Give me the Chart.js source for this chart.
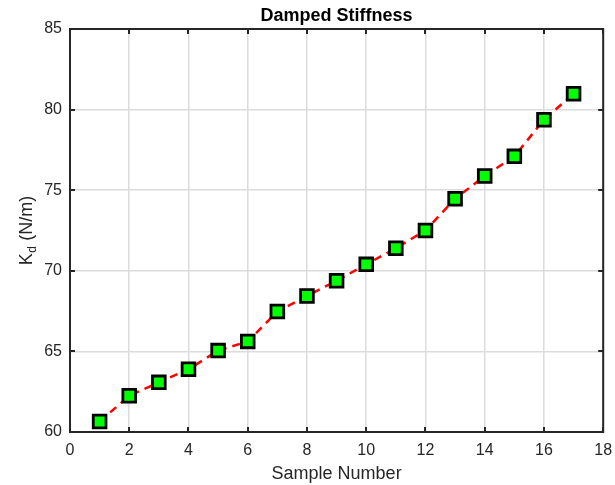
<!DOCTYPE html>
<html>
<head>
<meta charset="utf-8">
<script src="https://cdn.jsdelivr.net/npm/chart.js@4/dist/chart.umd.min.js"></script>
<style>
  html, body { margin: 0; padding: 0; background: #fff; }
  #wrap { width: 615px; height: 485px; position: relative; }
</style>
</head>
<body>
<div id="wrap"><canvas id="c" width="615" height="485"></canvas></div>
<script>
// Damped stiffness per sample
const sampleNumbers = [1, 2, 3, 4, 5, 6, 7, 8, 9, 10, 11, 12, 13, 14, 15, 16, 17];
const stiffnessValues = [60.65, 62.25, 63.08, 63.89, 65.05, 65.62, 67.47, 68.44, 69.38, 70.4, 71.4, 72.5, 74.47, 75.88, 77.1, 79.37, 80.98];
const xTicks = [0, 2, 4, 6, 8, 10, 12, 14, 16, 18];
const yTicks = [60, 65, 70, 75, 80, 85];

const chartTitle = 'Damped Stiffness';
const xTitle = 'Sample Number';
const yTitleMain = 'K';
const yTitleSub = 'd';
const yTitleRest = ' (N/m)';

const FONT = 'Arial, "Liberation Sans", Helvetica, sans-serif';
const AXIS_COLOR = '#262626';

const points = sampleNumbers.map((x, i) => ({ x: x, y: stiffnessValues[i] }));

// keep tick labels from pushing the plot area inwards
const noPadding = () => ({ left: 0, right: 0, top: 0, bottom: 0 });

// Box, inward ticks, title and axis labels drawn on top of the chart
const framePlugin = {
  id: 'frame',
  afterDatasetsDraw(chart) {
    const ctx = chart.ctx;
    const a = chart.chartArea;
    const xs = chart.scales.x;
    const ys = chart.scales.y;
    ctx.save();
    ctx.strokeStyle = AXIS_COLOR;
    ctx.lineWidth = 2;
    ctx.strokeRect(a.left, a.top, a.right - a.left, a.bottom - a.top);
    const tl = 5;
    ctx.beginPath();
    xTicks.forEach(v => {
      const px = Math.round(xs.getPixelForValue(v));
      ctx.moveTo(px, a.bottom); ctx.lineTo(px, a.bottom - tl);
      ctx.moveTo(px, a.top); ctx.lineTo(px, a.top + tl);
    });
    yTicks.forEach(v => {
      const py = Math.round(ys.getPixelForValue(v));
      ctx.moveTo(a.left, py); ctx.lineTo(a.left + tl, py);
      ctx.moveTo(a.right, py); ctx.lineTo(a.right - tl, py);
    });
    ctx.stroke();

    const cx = (a.left + a.right) / 2;
    const cy = (a.top + a.bottom) / 2;

    // title
    ctx.fillStyle = '#000';
    ctx.font = 'bold 18px ' + FONT;
    ctx.textAlign = 'center';
    ctx.textBaseline = 'alphabetic';
    ctx.fillText(chartTitle, cx, 21);

    // x axis title
    ctx.fillStyle = AXIS_COLOR;
    ctx.font = '18px ' + FONT;
    ctx.fillText(xTitle, cx, 479);

    // y axis title with subscript
    ctx.translate(32, cy);
    ctx.rotate(-Math.PI / 2);
    const mainFont = '18px ' + FONT;
    const subFont = '12px ' + FONT;
    ctx.font = mainFont;
    const wK = ctx.measureText(yTitleMain).width;
    const wR = ctx.measureText(yTitleRest).width;
    ctx.font = subFont;
    const wS = ctx.measureText(yTitleSub).width;
    const total = wK + wS + 1 + wR;
    let x0 = -total / 2;
    ctx.textAlign = 'left';
    ctx.font = mainFont;
    ctx.fillText(yTitleMain, x0, 0);
    x0 += wK + 0.5;
    ctx.font = subFont;
    ctx.fillText(yTitleSub, x0, 4);
    x0 += wS + 0.5;
    ctx.font = mainFont;
    ctx.fillText(yTitleRest, x0, 0);
    ctx.restore();
  }
};

new Chart(document.getElementById('c'), {
  type: 'line',
  data: {
    datasets: [{
      data: points,
      borderColor: '#ff0000',
      borderWidth: 2.5,
      borderDash: [8, 6],
      fill: false,
      tension: 0,
      pointStyle: 'rect',
      pointRadius: 9,
      pointHoverRadius: 9,
      pointBackgroundColor: '#00ff00',
      pointBorderColor: '#000000',
      pointBorderWidth: 2.8
    }]
  },
  options: {
    responsive: false,
    animation: false,
    devicePixelRatio: 1,
    layout: { padding: { left: 0, right: 9, top: 29, bottom: 0 } },
    plugins: { legend: { display: false }, tooltip: { enabled: false }, title: { display: false } },
    scales: {
      x: {
        type: 'linear',
        min: 0, max: 18,
        afterBuildTicks(scale) { scale.ticks = xTicks.map(v => ({ value: v })); },
        afterFit(scale) {
          scale.height = 53;
          scale.paddingLeft = 0; scale.paddingRight = 0;
          scale.getPadding = noPadding;
        },
        ticks: { color: AXIS_COLOR, font: { family: FONT, size: 16 }, padding: 9, maxRotation: 0 },
        grid: { color: '#dcdcdc', lineWidth: 1.5, drawTicks: false },
        border: { display: false }
      },
      y: {
        type: 'linear',
        min: 60, max: 85,
        afterBuildTicks(scale) { scale.ticks = yTicks.map(v => ({ value: v })); },
        afterFit(scale) {
          scale.width = 70;
          scale.paddingTop = 0; scale.paddingBottom = 0;
          scale.getPadding = noPadding;
        },
        ticks: { color: AXIS_COLOR, font: { family: FONT, size: 16 }, padding: 8 },
        grid: { color: '#dcdcdc', lineWidth: 1.5, drawTicks: false },
        border: { display: false }
      }
    }
  },
  plugins: [framePlugin]
});
</script>
</body>
</html>
